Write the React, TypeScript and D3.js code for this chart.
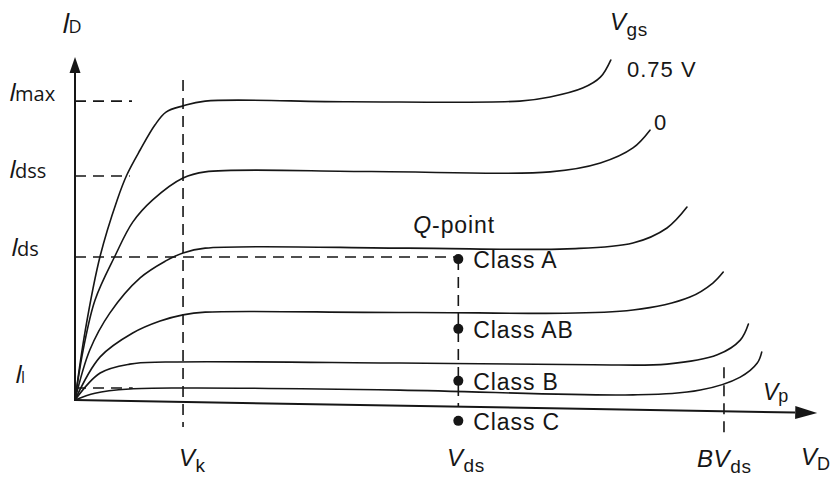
import React from "react";
import * as d3 from "d3";

// Output characteristics of the FET, normalised drain voltage (0-100) vs drain current (0-100)
type Pt = [number, number];

const curveHigh: Pt[] = [[0, 0], [1.4, 20.5], [3.4, 42.1], [5.7, 58.5], [7.0, 65.8], [8.8, 73.1], [10.8, 80.4], [12.3, 84.2], [14.6, 86.0], [17.6, 87.4], [37, 87.2], [60.1, 87.4], [64.2, 88.6], [68.6, 91.2], [71.0, 94.4], [72.4, 99.4]];
const curveZero: Pt[] = [[0, 0], [1.1, 14.6], [2.7, 29.2], [5.4, 42.1], [7.8, 52.0], [10.5, 58.5], [14.6, 64.9], [17.6, 66.7], [40, 66.8], [64.2, 66.7], [71.0, 69.3], [75.4, 73.7], [77.7, 78.9]];
const curveClassA: Pt[] = [[0, 0], [2.0, 14.6], [4.7, 25.4], [8.8, 35.7], [12.2, 40.6], [14.6, 43.0], [17.6, 44.4], [45, 44.4], [66.5, 44.2], [75.4, 45.9], [80, 50.3], [82.7, 56.4]];
const curveMid: Pt[] = [[0, 0], [3.4, 12.6], [7.8, 19.6], [11.5, 23.1], [14.6, 24.9], [17.6, 25.7], [45, 25.6], [75.4, 26.3], [83.1, 30.1], [86.2, 34.2], [87.6, 37.4]];
const curveLow: Pt[] = [[0, 0], [3.4, 7.9], [7.4, 10.5], [12.2, 11.1], [43.9, 10.8], [70, 10.3], [80, 10.5], [86.8, 13.2], [89.9, 17.5], [91.0, 22.2]];
const curveLowest: Pt[] = [[0, 0], [2.7, 2.0], [7.4, 3.2], [14.6, 3.5], [43.9, 2.9], [75.4, 1.5], [84.5, 2.9], [89.9, 6.7], [92.2, 10.8], [92.8, 14.0]];

const curves = [curveHigh, curveZero, curveClassA, curveMid, curveLow, curveLowest];

// Reference currents on the I axis
const iMax = 87.4;
const iDss = 65.5;
const iDs = 41.8;
const iL = 3.5;

// Reference voltages on the V axis
const vK = 14.6;
const vDs = 51.8;
const bvDs = 87.7;

// Bias points for the amplifier classes
const classNames = ["Class A", "Class AB", "Class B", "Class C"];
const classCurrents = [41.2, 20.8, 5.6, -6.1];

// End of the drain-voltage axis (it drops slightly to the right)
const axisEnd: Pt = [100.3, -3.8];

const W = 832;
const H = 477;

const x = d3.scaleLinear().domain([0, 100]).range([75, 815]);
const y = d3.scaleLinear().domain([0, 100]).range([400, 58]);

const line = d3
  .line<Pt>()
  .x((d) => x(d[0]))
  .y((d) => y(d[1]))
  .curve(d3.curveCatmullRom.alpha(0.5));

const INK = "#161616";
const DASH = "11 7";
const helv = "'Liberation Sans', Arial, sans-serif";
const leftFont = "'Open Sans', 'Noto Sans', sans-serif";

function VLabel({ px, py, main, sub, pre }: { px: number; py: number; main: string; sub: string; pre?: string }) {
  return (
    <text x={px} y={py} fontFamily={helv} fill={INK} letterSpacing={0.6}>
      {pre ? (
        <tspan fontStyle="italic" fontSize={24}>{pre}</tspan>
      ) : null}
      <tspan fontStyle="italic" fontSize={24}>{main}</tspan>
      <tspan fontSize={19} dy={6}>{sub}</tspan>
    </text>
  );
}

function ILabel({ px, py, sub, subSize = 20 }: { px: number; py: number; sub: string; subSize?: number }) {
  return (
    <text x={px} y={py} fontFamily={leftFont} fill={INK}>
      <tspan fontStyle="italic" fontSize={26} fontWeight={500}>I</tspan>
      <tspan fontSize={subSize} dx={-1}>{sub}</tspan>
    </text>
  );
}

export default function App() {
  const x0 = x(0);
  const y0 = y(0);
  const ax = x(axisEnd[0]);
  const ay = y(axisEnd[1]);
  const ang = Math.atan2(ay - y0, ax - x0);
  const len = 22;
  const half = 6.5;
  const bx = ax - len * Math.cos(ang);
  const by = ay - len * Math.sin(ang);
  const xArrow = `M${ax},${ay} L${bx + half * Math.sin(ang)},${by - half * Math.cos(ang)} L${bx - half * Math.sin(ang)},${by + half * Math.cos(ang)} Z`;
  const yTop = y(100) - 1;
  const yArrow = `M${x0},${yTop} L${x0 - 5.5},${yTop + 16} L${x0 + 5.5},${yTop + 16} Z`;

  return (
    <svg width={W} height={H} viewBox={`0 0 ${W} ${H}`} style={{ display: "block", position: "absolute", left: 0, top: 0, background: "#fff" }}>
      <rect width={W} height={H} fill="#fff" />

      {/* dashed reference lines */}
      <g stroke={INK} strokeWidth={1.6} strokeDasharray={DASH} fill="none">
        <line x1={x0} x2={x(7.7)} y1={y(iMax)} y2={y(iMax)} />
        <line x1={x0} x2={x(7.4)} y1={y(iDss)} y2={y(iDss)} />
        <line x1={x0} x2={x(vDs)} y1={y(iDs)} y2={y(iDs)} />
        <line x1={x0} x2={x(7.8)} y1={y(iL)} y2={y(iL)} />
        <line x1={x(vK)} x2={x(vK)} y1={y(93.6)} y2={y(-7.9)} />
        <line x1={x(vDs)} x2={x(vDs)} y1={y(classCurrents[0])} y2={y(-2)} />
        <line x1={x(bvDs)} x2={x(bvDs)} y1={y(9.6)} y2={y(-9.6)} />
      </g>

      {/* axes */}
      <line x1={x0} y1={y0 + 1} x2={x0} y2={yTop + 10} stroke={INK} strokeWidth={2} />
      <path d={yArrow} fill={INK} />
      <line x1={x0} y1={y0} x2={bx} y2={by} stroke={INK} strokeWidth={2} />
      <path d={xArrow} fill={INK} />

      {/* characteristic curves */}
      <g fill="none" stroke={INK} strokeWidth={1.6} strokeLinecap="round">
        {curves.map((c, i) => (
          <path key={i} d={line(c) ?? ""} />
        ))}
      </g>

      {/* bias points */}
      {classCurrents.map((c, i) => (
        <g key={classNames[i]}>
          <circle cx={x(vDs)} cy={y(c)} r={5} fill={INK} />
          <text x={x(vDs) + 15} y={y(c) + 9} fontFamily={helv} fontSize={23} letterSpacing={0.9} fill={INK}>
            {classNames[i]}
          </text>
        </g>
      ))}

      <text x={x(vDs) - 45} y={233} fontFamily={helv} fontSize={23} letterSpacing={0.9} fill={INK}>
        <tspan fontStyle="italic">Q</tspan>-point
      </text>

      {/* gate-voltage labels */}
      <VLabel px={610} py={30} main="V" sub="gs" />
      <text x={627} y={77} fontFamily={helv} fontSize={22} letterSpacing={1} fill={INK}>0.75 V</text>
      <text x={654} y={130} fontFamily={helv} fontSize={22} fill={INK}>0</text>

      {/* current labels */}
      <text x={62} y={33} fontFamily={leftFont} fill={INK}>
        <tspan fontStyle="italic" fontSize={28} fontWeight={500}>I</tspan>
        <tspan fontSize={18} dx={-1}>D</tspan>
      </text>
      <ILabel px={9} py={y(iMax)} sub="max" />
      <ILabel px={9} py={y(iDss) + 2} sub="dss" />
      <ILabel px={11} py={y(iDs) - 1} sub="ds" />
      <ILabel px={15} py={y(iL) - 5} sub="l" subSize={16} />

      {/* voltage labels */}
      <VLabel px={179} py={466} main="V" sub="k" />
      <VLabel px={447} py={466} main="V" sub="ds" />
      <VLabel px={697} py={467} pre="B" main="V" sub="ds" />
      <text x={763} y={400} fontFamily={helv} fill={INK}>
        <tspan fontStyle="italic" fontSize={23}>V</tspan>
        <tspan fontSize={18} dy={2}>p</tspan>
      </text>
      <text x={801} y={465} fontFamily={helv} fill={INK}>
        <tspan fontStyle="italic" fontSize={24}>V</tspan>
        <tspan fontSize={18} dy={5}>D</tspan>
      </text>
    </svg>
  );
}
